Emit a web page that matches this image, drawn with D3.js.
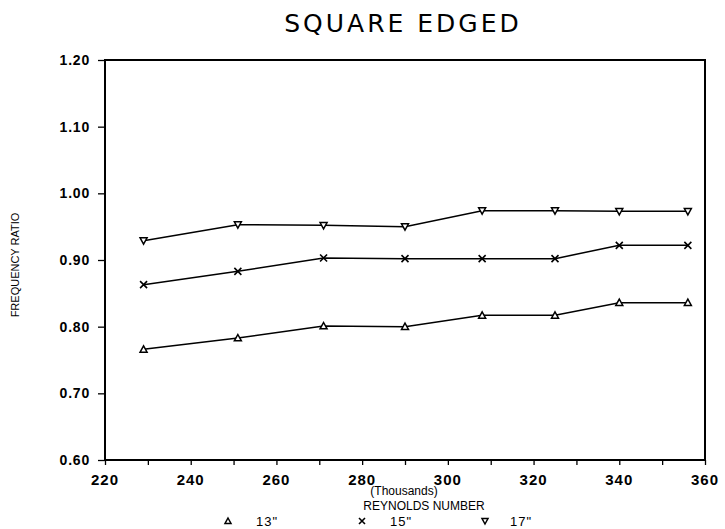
<!DOCTYPE html>
<html><head><meta charset="utf-8">
<script src="https://cdn.jsdelivr.net/npm/d3@7"></script>
<style>
body{margin:0;background:#fff;}
text{fill:#000;}
</style></head>
<body><svg id="c" width="725" height="529"></svg>
<script>
const reynolds = [229, 251, 271, 290, 308, 325, 340, 356];
const s13 = [0.766, 0.783, 0.801, 0.800, 0.817, 0.817, 0.836, 0.836];
const s15 = [0.863, 0.883, 0.903, 0.902, 0.902, 0.902, 0.922, 0.922];
const s17 = [0.929, 0.953, 0.952, 0.950, 0.974, 0.974, 0.973, 0.973];
const seriesNames = ['13"', '15"', '17"'];
const xTicks = [220, 240, 260, 280, 300, 320, 340, 360];
const yTicks = [0.60, 0.70, 0.80, 0.90, 1.00, 1.10, 1.20];

const svg = d3.select('#c');
const L = 105, R = 705, T = 60, B = 460;
const x = d3.scaleLinear().domain([220, 360]).range([L, R]);
const y = d3.scaleLinear().domain([0.6, 1.2]).range([B, T]);
const font = '"Liberation Sans", Arial, sans-serif';

// frame
svg.append('rect').attr('x', L).attr('y', T).attr('width', R - L).attr('height', B - T)
  .attr('fill', 'none').attr('stroke', '#000').attr('stroke-width', 2);

// x axis
const xa = svg.append('g').attr('transform', `translate(0,${B})`)
  .call(d3.axisBottom(x).tickValues(d3.range(220, 361, 10)).tickSize(5).tickFormat(''));
xa.select('.domain').remove();
xa.selectAll('line').attr('stroke', '#000').attr('stroke-width', 1.3);
svg.append('g').selectAll('text').data(xTicks).join('text')
  .attr('x', d => x(d)).attr('y', 485).attr('text-anchor', 'middle')
  .attr('font-family', font).attr('font-size', 15).attr('font-weight', 'bold')
  .attr('letter-spacing', 1).text(d => d);

// y axis
const ya = svg.append('g').attr('transform', `translate(${L},0)`)
  .call(d3.axisLeft(y).tickValues(yTicks).tickSize(7).tickFormat(''));
ya.select('.domain').remove();
ya.selectAll('line').attr('stroke', '#000').attr('stroke-width', 1.3);
svg.append('g').selectAll('text').data(yTicks).join('text')
  .attr('x', 90).attr('y', d => y(d) + 5).attr('text-anchor', 'end')
  .attr('font-family', font).attr('font-size', 14).attr('font-weight', 'bold')
  .attr('letter-spacing', 0.8).text(d => d.toFixed(2));

// title
svg.append('text').attr('x', 403).attr('y', 32).attr('text-anchor', 'middle')
  .attr('font-family', '"DejaVu Sans", sans-serif').attr('font-size', 25)
  .attr('letter-spacing', 3).text('SQUARE EDGED');

// axis titles
svg.append('text').attr('transform', 'translate(19,265) rotate(-90)').attr('text-anchor', 'middle')
  .attr('font-family', font).attr('font-size', 11).text('FREQUENCY RATIO');
svg.append('text').attr('x', 404).attr('y', 495).attr('text-anchor', 'middle')
  .attr('font-family', font).attr('font-size', 12).text('(Thousands)');
svg.append('text').attr('x', 424).attr('y', 510).attr('text-anchor', 'middle')
  .attr('font-family', font).attr('font-size', 12).text('REYNOLDS NUMBER');

// series
const data = [s13, s15, s17];
const line = d3.line().x((d, i) => x(reynolds[i])).y(d => y(d));
const g = svg.append('g');
data.forEach(s => {
  g.append('path').datum(s).attr('d', line).attr('fill', 'none')
    .attr('stroke', '#000').attr('stroke-width', 1.5);
});

function marker(sel, k, cx, cy, sz) {
  if (k === 0) {
    sel.append('path').attr('d', `M${cx},${cy - sz}L${cx + sz},${cy + sz * 0.8}L${cx - sz},${cy + sz * 0.8}Z`)
      .attr('fill', '#fff').attr('stroke', '#000').attr('stroke-width', 1.5);
  } else if (k === 1) {
    sel.append('path').attr('d', `M${cx - sz},${cy - sz}L${cx + sz},${cy + sz}M${cx - sz},${cy + sz}L${cx + sz},${cy - sz}`)
      .attr('stroke', '#000').attr('stroke-width', 1.6);
  } else {
    sel.append('path').attr('d', `M${cx},${cy + sz}L${cx + sz},${cy - sz * 0.8}L${cx - sz},${cy - sz * 0.8}Z`)
      .attr('fill', '#fff').attr('stroke', '#000').attr('stroke-width', 1.5);
  }
}
data.forEach((s, k) => {
  s.forEach((v, i) => marker(g, k, x(reynolds[i]), y(v), 3.5));
});

// legend
const legX = [228, 362, 485];
const legT = [256, 390, 510];
seriesNames.forEach((n, k) => {
  marker(svg, k, legX[k], 521, 3);
  svg.append('text').attr('x', legT[k]).attr('y', 526).attr('font-family', font)
    .attr('font-size', 13).attr('letter-spacing', 1).text(n);
});
</script></body></html>
